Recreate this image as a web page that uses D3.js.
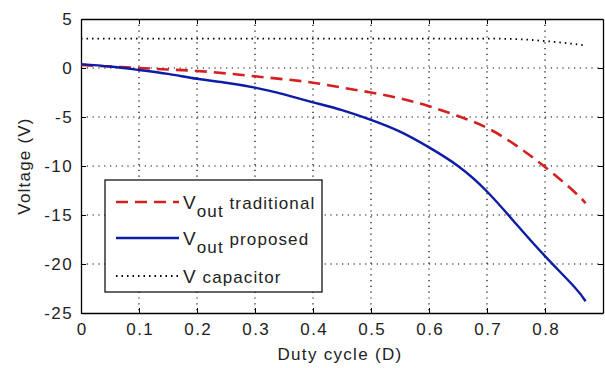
<!DOCTYPE html>
<html>
<head>
<meta charset="utf-8">
<script src="https://cdn.jsdelivr.net/npm/d3@7"></script>
<style>
  body { margin: 0; background: #fff; }
  text { font-family: "Liberation Sans", Arial, sans-serif; fill: #222; }
</style>
</head>
<body>
<div id="chart"></div>
<script>
// data
const duty = [0, 0.05, 0.1, 0.15, 0.2, 0.25, 0.3, 0.35, 0.4, 0.45, 0.5, 0.55, 0.6, 0.65, 0.7, 0.75, 0.8, 0.85, 0.87];
const vTraditional = [0.3, 0.15, 0, -0.15, -0.3, -0.55, -0.85, -1.15, -1.5, -2.0, -2.5, -3.1, -3.9, -4.9, -6.1, -7.9, -10.1, -12.6, -13.8];
const vProposed = [0.4, 0.15, -0.2, -0.6, -1.1, -1.5, -2.0, -2.7, -3.5, -4.3, -5.3, -6.5, -8.1, -10.0, -12.6, -15.9, -19.2, -22.3, -23.8];
const vCapacitor = [3, 3, 3, 3, 3, 3, 3, 3, 3, 3, 3, 3, 3, 3, 3, 2.95, 2.75, 2.45, 2.3];
const xTicks = [0, 0.1, 0.2, 0.3, 0.4, 0.5, 0.6, 0.7, 0.8];
const yTicks = [5, 0, -5, -10, -15, -20, -25];

const width = 605, height = 368;
const margin = {top: 19, right: 2, bottom: 55, left: 81};
const w = width - margin.left - margin.right;
const h = height - margin.top - margin.bottom;

let svg = d3.select("#chart")
    .append("svg")
    .attr("width", width)
    .attr("height", height)
    .append("g")
    .attr("transform", `translate(${margin.left}, ${margin.top})`);

let x = d3.scaleLinear().domain([0, 0.9]).range([0, w]);
let y = d3.scaleLinear().domain([-25, 5]).range([h, 0]);

// dotted grid
svg.append("g").selectAll("line").data(xTicks.slice(1))
    .enter().append("line")
    .attr("x1", d => x(d)).attr("x2", d => x(d))
    .attr("y1", 0).attr("y2", h)
    .attr("stroke", "#000").attr("stroke-width", 1.2)
    .attr("stroke-dasharray", "1.2,4.6");

svg.append("g").selectAll("line").data(yTicks.slice(1, -1))
    .enter().append("line")
    .attr("y1", d => y(d)).attr("y2", d => y(d))
    .attr("x1", 0).attr("x2", w)
    .attr("stroke", "#000").attr("stroke-width", 1.2)
    .attr("stroke-dasharray", "1.2,4.6");

// axes (ticks inward, mirrored on top and right)
let plain = function(d) { return String(d); };
let xAxis = svg.append("g")
    .attr("transform", `translate(0, ${h})`)
    .call(d3.axisBottom(x).tickValues(xTicks).tickFormat(plain).tickSizeInner(-5).tickSizeOuter(0).tickPadding(10));
let xTop = svg.append("g")
    .call(d3.axisTop(x).tickValues(xTicks).tickFormat("").tickSizeInner(-5).tickSizeOuter(0));
let yAxis = svg.append("g")
    .call(d3.axisLeft(y).tickValues(yTicks).tickFormat(plain).tickSizeInner(-5).tickSizeOuter(0).tickPadding(8));
let yRight = svg.append("g")
    .attr("transform", `translate(${w}, 0)`)
    .call(d3.axisRight(y).tickValues(yTicks).tickFormat("").tickSizeInner(-5).tickSizeOuter(0));

[xAxis, xTop, yAxis, yRight].forEach(function(a) {
    a.select(".domain").attr("stroke", "#000").attr("stroke-width", 1.3);
    a.selectAll(".tick line").attr("stroke", "#000");
    a.selectAll("text").style("font-size", "17px").style("letter-spacing", "1.4px").attr("fill", "#222");
});
xAxis.selectAll("text").attr("dx", "0.7px");

// lines
let points = function(vals) { return duty.map(function(d, i) { return [d, vals[i]]; }); };
let line = d3.line().x(d => x(d[0])).y(d => y(d[1])).curve(d3.curveNatural);
let flatLine = d3.line().x(d => x(d[0])).y(d => y(d[1])).curve(d3.curveMonotoneX);

svg.append("path").datum(points(vCapacitor))
    .attr("d", flatLine).attr("fill", "none")
    .attr("stroke", "#000").attr("stroke-width", 1.8)
    .attr("stroke-dasharray", "1.5,4");

svg.append("path").datum(points(vTraditional))
    .attr("d", line).attr("fill", "none")
    .attr("stroke", "#d42020").attr("stroke-width", 2.6)
    .attr("stroke-dasharray", "12,7");

svg.append("path").datum(points(vProposed))
    .attr("d", line).attr("fill", "none")
    .attr("stroke", "#0c1ca6").attr("stroke-width", 2.4);

// legend
let legend = svg.append("g").attr("transform", `translate(${105 - margin.left}, ${180 - margin.top})`);
legend.append("rect")
    .attr("width", 217).attr("height", 112)
    .attr("fill", "#fff").attr("stroke", "#000").attr("stroke-width", 1.2);

let entries = [
    {name: "V", sub: "out", rest: " traditional", color: "#d42020", dash: "12,7", sw: 2.6},
    {name: "V", sub: "out", rest: " proposed", color: "#0c1ca6", dash: null, sw: 2.4},
    {name: "V", sub: "", rest: " capacitor", color: "#000", dash: "1.5,4", sw: 1.8}
];
let rowY = [22, 58, 96];

entries.forEach(function(e, i) {
    legend.append("line")
        .attr("x1", 11).attr("x2", 74)
        .attr("y1", rowY[i]).attr("y2", rowY[i])
        .attr("stroke", e.color).attr("stroke-width", e.sw)
        .attr("stroke-dasharray", e.dash);
    let t = legend.append("text")
        .attr("x", 78).attr("y", rowY[i] + 7)
        .style("font-size", "19px").style("letter-spacing", "1.1px");
    t.append("tspan").text(e.name);
    if (e.sub) {
        t.append("tspan").attr("dy", 8).style("font-size", "17px").text(e.sub);
        t.append("tspan").attr("dy", -8).style("font-size", "17px").text(e.rest);
    } else {
        t.append("tspan").style("font-size", "17px").text(e.rest);
    }
});

// axis labels
svg.append("text")
    .attr("x", w / 2 - 2).attr("y", h + 47)
    .style("text-anchor", "middle").style("font-size", "17px").style("letter-spacing", "1.3px")
    .text("Duty cycle (D)");

svg.append("text")
    .attr("transform", `translate(${30 - margin.left}, ${166 - margin.top}) rotate(-90)`)
    .style("text-anchor", "middle").style("font-size", "17px").style("letter-spacing", "1.2px")
    .text("Voltage (V)");
</script>
</body>
</html>
